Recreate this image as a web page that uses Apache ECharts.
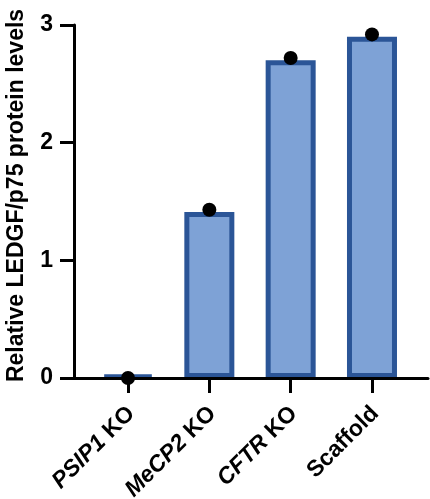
<!DOCTYPE html>
<html>
<head>
<meta charset="utf-8">
<script src="https://cdn.jsdelivr.net/npm/echarts@6/dist/echarts.min.js"></script>
<style>
html,body{margin:0;padding:0;background:#fff;}
#c{width:430px;height:499px;}
</style>
</head>
<body>
<div id="c"></div>
<script>
var categories = ['PSIP1', 'MeCP2', 'CFTR', 'Scaffold'];
var categorySuffix = [' KO', ' KO', ' KO', ''];
var italicGene = [true, true, true, false];
var barValues = [0.02, 1.41, 2.70, 2.90];
var pointValues = [0.0, 1.43, 2.72, 2.92];
var yTicks = [0, 1, 2, 3];

var FONT = '"Liberation Sans", Arial, sans-serif';
var positions = categories.map(function (c, i) { return i; });

var chart = echarts.init(document.getElementById('c'), null, {renderer: 'canvas'});
chart.setOption({
  animation: false,
  grid: [
    {left: 74, right: 2, top: 25, bottom: 121, containLabel: false, outerBoundsMode: 'none'},
    {left: 87.35, right: 17.35, top: 25, bottom: 121, containLabel: false, outerBoundsMode: 'none'}
  ],
  xAxis: [{
    type: 'value',
    gridIndex: 0,
    min: -0.664,
    max: 3.69,
    z: 10,
    splitLine: {show: false},
    axisLine: {show: true, onZero: false, lineStyle: {color: '#000', width: 3}},
    axisTick: {show: true, length: 15, lineStyle: {color: '#000', width: 3}, customValues: positions},
    axisLabel: {
      show: true,
      customValues: positions,
      rotate: 45,
      margin: 19,
      align: 'right',
      verticalAlign: 'top',
      padding: [0, 7, 0, 0],
      formatter: function (v) {
        var i = Math.round(v);
        var g = categories[i];
        var s = categorySuffix[i];
        return (italicGene[i] ? '{i|' + g + '}' : '{b|' + g + '}') + (s ? '{b|' + s + '}' : '');
      },
      rich: {
        i: {fontFamily: FONT, fontSize: 23, fontWeight: 'bold', fontStyle: 'italic', color: '#000'},
        b: {fontFamily: FONT, fontSize: 23, fontWeight: 'bold', color: '#000'}
      }
    }
  }, {
    type: 'category',
    gridIndex: 1,
    data: categories,
    boundaryGap: true,
    show: false
  }],
  yAxis: [{
    type: 'value',
    gridIndex: 0,
    min: 0,
    max: 3,
    interval: 1,
    z: 10,
    name: 'Relative LEDGF/p75 protein levels',
    nameLocation: 'middle',
    nameGap: 46,
    nameTextStyle: {fontFamily: FONT, fontSize: 23, fontWeight: 'bold', color: '#000', padding: [0, 0, 0, 12]},
    splitLine: {show: false},
    axisLine: {show: true, onZero: false, lineStyle: {color: '#000', width: 3}},
    axisTick: {show: true, length: 14, lineStyle: {color: '#000', width: 3}},
    axisLabel: {
      margin: 21,
      fontFamily: FONT, fontSize: 23, fontWeight: 'bold', color: '#000',
      formatter: function (v) { return yTicks.indexOf(v) >= 0 ? String(v) : ''; }
    }
  }, {
    type: 'value',
    gridIndex: 1,
    min: 0,
    max: 3,
    interval: 1,
    show: false,
    splitLine: {show: false}
  }],
  series: [
    {
      type: 'bar',
      xAxisIndex: 1,
      yAxisIndex: 1,
      data: barValues,
      barWidth: 50,
      itemStyle: {color: '#7EA2D6', borderColor: '#2B5597', borderWidth: 5, opacity: 1},
      z: 2
    },
    {
      type: 'scatter',
      xAxisIndex: 1,
      yAxisIndex: 1,
      data: pointValues,
      symbol: 'circle',
      symbolSize: 14,
      itemStyle: {color: '#000', opacity: 1},
      z: 20
    }
  ]
});
</script>
</body>
</html>
